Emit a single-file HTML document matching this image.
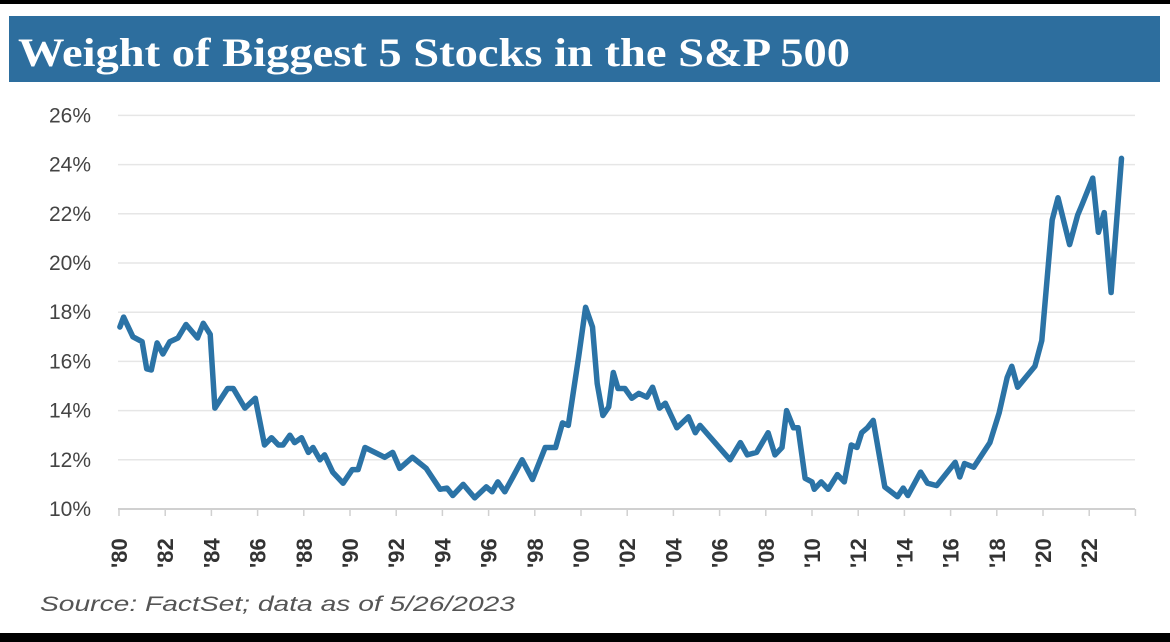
<!DOCTYPE html>
<html><head><meta charset="utf-8"><style>
html,body{margin:0;padding:0;background:#fff;}
svg{display:block;font-family:"Liberation Sans",sans-serif;}
</style></head><body>
<svg id="chart" width="1170" height="642" viewBox="0 0 1170 642">
<rect x="0" y="0" width="1170" height="4" fill="#000"/>
<rect x="0" y="633" width="1170" height="9" fill="#000"/>
<rect x="9" y="16" width="1151" height="66" fill="#2d6e9e"/>
<text x="18" y="66" fill="#fff" font-family="'Liberation Serif',serif" font-weight="bold" font-size="40" textLength="832" lengthAdjust="spacingAndGlyphs">Weight of Biggest 5 Stocks in the S&amp;P 500</text>
<g id="grid"></g>
<g id="yticks"></g>
<g id="xticks"></g>
<path id="line" fill="none" stroke="#2b73a6" stroke-width="5.5" stroke-linejoin="round" stroke-linecap="round"/>
<text x="40" y="611" fill="#555" font-style="italic" font-size="21" textLength="475" lengthAdjust="spacingAndGlyphs">Source: FactSet; data as of 5/26/2023</text>
</svg>
<script>
const years=[1980.04,1980.2,1980.6,1981.0,1981.2,1981.4,1981.65,1981.9,1982.2,1982.55,1982.9,1983.4,1983.65,1983.95,1984.15,1984.7,1984.95,1985.45,1985.9,1986.3,1986.6,1986.9,1987.1,1987.4,1987.6,1987.9,1988.2,1988.4,1988.7,1988.9,1989.25,1989.7,1990.1,1990.35,1990.65,1991.5,1991.85,1992.15,1992.7,1993.3,1993.9,1994.2,1994.45,1994.9,1995.4,1995.9,1996.15,1996.4,1996.7,1997.05,1997.45,1997.9,1998.45,1998.9,1999.2,1999.45,1999.9,2000.2,2000.5,2000.7,2000.95,2001.2,2001.4,2001.6,2001.9,2002.2,2002.5,2002.85,2003.1,2003.4,2003.65,2004.15,2004.65,2004.95,2005.15,2006.45,2006.9,2007.2,2007.6,2008.1,2008.4,2008.7,2008.9,2009.2,2009.4,2009.7,2010.0,2010.1,2010.4,2010.7,2011.1,2011.4,2011.7,2011.95,2012.15,2012.4,2012.65,2013.15,2013.7,2013.95,2014.15,2014.7,2015.0,2015.4,2016.2,2016.4,2016.6,2017.0,2017.7,2018.1,2018.45,2018.65,2018.9,2019.65,2019.95,2020.4,2020.65,2021.15,2021.5,2021.7,2022.15,2022.4,2022.65,2022.95,2023.4];
const weights=[17.4,17.8,17.0,16.8,15.7,15.65,16.75,16.3,16.8,16.95,17.5,16.95,17.55,17.1,14.1,14.9,14.9,14.1,14.5,12.6,12.9,12.6,12.6,13.0,12.7,12.9,12.3,12.5,12.0,12.2,11.5,11.05,11.6,11.6,12.5,12.1,12.3,11.65,12.1,11.65,10.8,10.85,10.55,11.0,10.45,10.9,10.7,11.1,10.7,11.3,12.0,11.2,12.5,12.5,13.5,13.4,16.2,18.2,17.4,15.1,13.8,14.15,15.55,14.9,14.9,14.5,14.7,14.55,14.95,14.1,14.3,13.3,13.75,13.1,13.4,12.0,12.7,12.2,12.3,13.1,12.2,12.5,14.0,13.3,13.3,11.25,11.1,10.8,11.1,10.8,11.4,11.1,12.6,12.5,13.1,13.3,13.6,10.9,10.5,10.85,10.55,11.5,11.05,10.95,11.9,11.3,11.85,11.7,12.7,13.9,15.35,15.8,14.95,15.8,16.85,21.75,22.65,20.75,21.95,22.4,23.45,21.25,22.05,18.8,24.25];
const yTickValues=[10,12,14,16,18,20,22,24,26];
const xTickYears=[1980,1982,1984,1986,1988,1990,1992,1994,1996,1998,2000,2002,2004,2006,2008,2010,2012,2014,2016,2018,2020,2022];
const NS='http://www.w3.org/2000/svg';
function xs(y){return 119+(y-1980)*23.1;}
function ys(v){return 509-(v-10)*24.6;}
const grid=document.getElementById('grid'),yt=document.getElementById('yticks'),xt=document.getElementById('xticks');
yTickValues.forEach(v=>{
  const l=document.createElementNS(NS,'line');
  l.setAttribute('x1',118);l.setAttribute('x2',1135);l.setAttribute('y1',ys(v));l.setAttribute('y2',ys(v));
  l.setAttribute('stroke',v===10?'#d0d0d0':'#e6e6e6');l.setAttribute('stroke-width',v===10?2:1.5);
  
  
  grid.appendChild(l);
  const t=document.createElementNS(NS,'text');
  t.setAttribute('x',91);t.setAttribute('y',ys(v)+7);t.setAttribute('text-anchor','end');
  t.setAttribute('font-size','21');t.setAttribute('fill','#444');
  t.textContent=v+'%';
  
  
  yt.appendChild(t);
});
xTickYears.concat([2024]).forEach(yr=>{
  const l=document.createElementNS(NS,'line');
  l.setAttribute('x1',xs(yr));l.setAttribute('x2',xs(yr));l.setAttribute('y1',509);l.setAttribute('y2',516);
  l.setAttribute('stroke','#d0d0d0');l.setAttribute('stroke-width',1.5);
  
  
  xt.appendChild(l);
});
xTickYears.forEach(yr=>{
  const t=document.createElementNS(NS,'text');
  const x=xs(yr)+8,y=568;
  t.setAttribute('transform','translate('+x+','+y+') rotate(-90)');
  t.setAttribute('font-size','22');t.setAttribute('font-weight','bold');t.setAttribute('fill','#333');
  t.textContent="'"+String(yr%100).padStart(2,'0');
  
  
  xt.appendChild(t);
});
document.getElementById('line').setAttribute('d',years.map((y,i)=>(i?'L':'M')+xs(y).toFixed(1)+' '+ys(weights[i]).toFixed(1)).join(' '));
</script>
</body></html>
